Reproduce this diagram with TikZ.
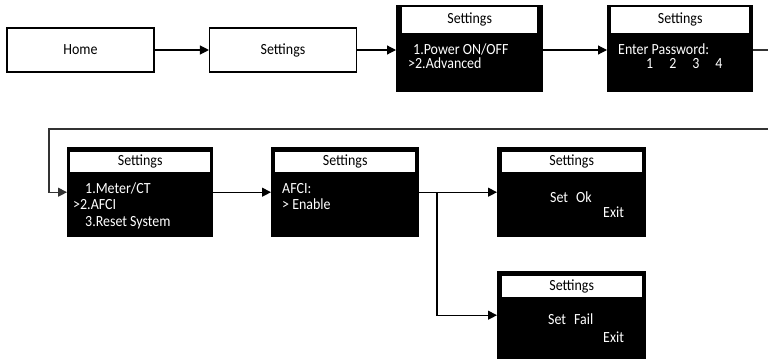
\documentclass[tikz,border=0pt]{standalone}
\usepackage{fontspec}
\setmainfont{Carlito}[FakeStretch=0.9]
\usetikzlibrary{arrows.meta,calc}
\begin{document}
\begin{tikzpicture}[x=1pt,y=-1pt,
  every node/.style={font=\fontsize{15.5}{17}\selectfont},
  plainbox/.style={draw=black,line width=1.1pt,fill=white,minimum width=147pt,minimum height=44pt,inner sep=0},
  screen/.style={fill=black,inner sep=0,anchor=north west},
  titlebar/.style={fill=white,inner sep=0,anchor=north,text=black},
  scrtext/.style={text=white,inner sep=0,anchor=base west},
  arr/.style={line width=1.2pt,-{Triangle[length=9pt,width=9pt]}}]
\useasboundingbox (0,0) rectangle (768,359);
\clip (0,0) rectangle (768,359);

% top row
\node[plainbox] (home) at (80.5,50) {Home};
\node[plainbox] (set1) at (283,50) {Settings};

\node[screen,minimum width=147pt,minimum height=87pt] (m1) at (396,5) {};
\node[titlebar,minimum width=135pt,minimum height=26pt] (m1t) at ([yshift=-1.5pt]m1.north) {Settings};
\node[scrtext] (m1a) at (413,54) {1.Power ON/OFF};
\node[scrtext] (m1b) at (408,68) {>2.Advanced};

\node[screen,minimum width=146pt,minimum height=87pt] (pwd) at (607,5) {};
\node[titlebar,minimum width=138pt,minimum height=26pt] (pwdt) at ([yshift=-1.5pt]pwd.north) {Settings};
\node[scrtext] (pwda) at (618,54) {Enter Password:};
\node[scrtext] (pwdb) at (646,68) {1\hspace{16pt}2\hspace{16pt}3\hspace{16pt}4};

% second row
\node[screen,minimum width=146pt,minimum height=90pt] (met) at (67,147) {};
\node[titlebar,minimum width=140pt,minimum height=20pt] (mett) at ([yshift=-4.5pt]met.north) {Settings};
\node[scrtext] (meta) at (85,193) {1.Meter/CT};
\node[scrtext] (metb) at (73,209.5) {>2.AFCI};
\node[scrtext] (metc) at (85,226) {3.Reset System};

\node[screen,minimum width=148pt,minimum height=90pt] (afci) at (271,147) {};
\node[titlebar,minimum width=140pt,minimum height=20pt] (afcit) at ([yshift=-4.5pt]afci.north) {Settings};
\node[scrtext] (afcia) at (282,193) {AFCI:};
\node[scrtext] (afcib) at (282,209.5) {> Enable};

\node[screen,minimum width=149pt,minimum height=90pt] (ok) at (497,147) {};
\node[titlebar,minimum width=140pt,minimum height=20pt] (okt) at ([yshift=-4.5pt]ok.north) {Settings};
\node[scrtext] (oka) at (550,202) {Set\hspace{8pt}Ok};
\node[scrtext] (okb) at (603,217.5) {Exit};

\node[screen,minimum width=149pt,minimum height=88pt] (fail) at (497,271) {};
\node[titlebar,minimum width=140pt,minimum height=21pt] (failt) at ([yshift=-4.5pt]fail.north) {Settings};
\node[scrtext] (faila) at (548,324) {Set\hspace{8pt}Fail};
\node[scrtext] (failb) at (603,342) {Exit};

% connectors
\draw[arr] (home) -- (set1);
\draw[arr] (set1.east) -- (set1.east -| m1.west);
\draw[arr] (set1.east -| m1.east) -- (set1.east -| pwd.west);
\coordinate (offr) at (785,50);
\coordinate (back) at (785,129);
\coordinate (lft) at (49,129);
\draw[arr,draw=black!80] (set1.east -| pwd.east) -- (offr) -- (back) -- (lft) |- (met.west);
\draw[arr] (met) -- (afci);
\draw[arr] (afci) -- (ok);
\coordinate (br) at (437,192);
\draw[arr] (br) |- (fail.west);
\end{tikzpicture}
\end{document}
